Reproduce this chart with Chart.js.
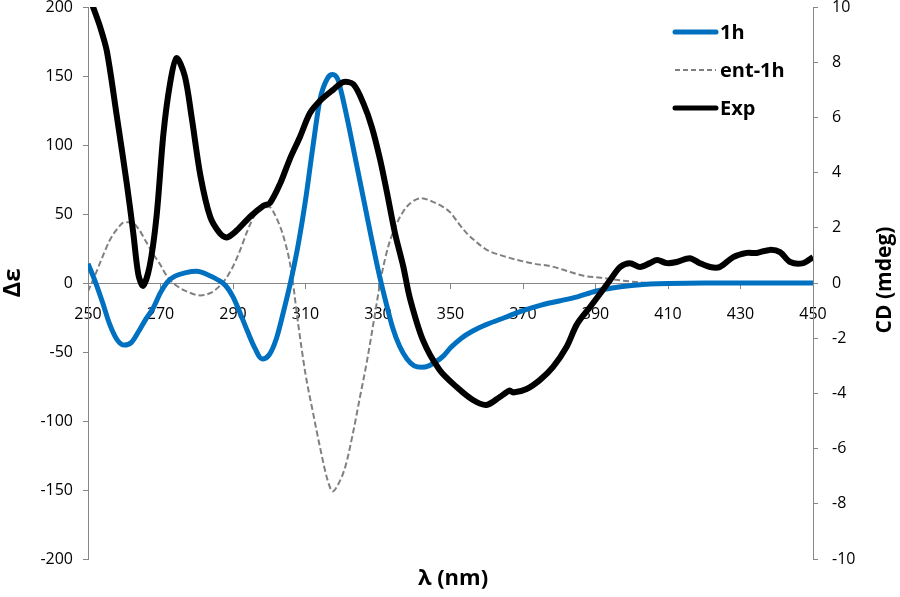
<!DOCTYPE html>
<html>
<head>
<meta charset="utf-8">
<script src="https://cdn.jsdelivr.net/npm/chart.js@4/dist/chart.umd.min.js"></script>
<style>
  html, body { margin: 0; padding: 0; background: #fff; }
  #wrap { position: relative; width: 900px; height: 597px; }
</style>
</head>
<body>
<div id="wrap"><canvas id="c" width="900" height="597"></canvas></div>
<script>
// ---- Data ----
const calcWavelength = [250,252,254,256,258,260,262,264,266,268,270,272,274,277,280,283,286,288,290,292,294,296,298,300,302,304,306,308,310,312,314,316,317.5,319,320,322,324,326,328,330,332,334,336,338,340,342,344,346,348,350,353,356,360,365,370,375,380,385,390,395,400,405,410,420,435,450];
const series1h     = [14,1,-14,-30,-41,-45,-43,-35,-26,-18,-7,1,5,7.5,8.5,6,2,-2,-10,-22,-35,-47,-55,-52,-40,-20,2,28,60,98,133,148,151,147,137,113,87,61,35,10,-12,-32,-46,-55,-60,-61,-60,-57,-53,-47,-40,-35,-30,-25,-20,-16,-13,-10,-6,-3.5,-1.8,-0.8,-0.3,0,0,0];

const entWavelength = [250,252,254,256,258,260,262,264,266,268,270,272,275,278,281,284,286,288,290,292,294,296,298,300,302,304,306,308,310,312,314,316,317.5,319,321,323,325,327,329,331,333,335,337,339,342,345,348,350,352,354.5,357,360,364,368,373,378,383,387,391,395,400,405,420,435,450];
const seriesEnt1h   = [-6,6,19,31,39,44,44,39,30,21,13,4,-3,-7,-9,-7,-3,3,12,24,38,49,54,55,47,33,10,-30,-66,-93,-119,-142,-151,-146,-133,-110,-83,-56,-25,6,28,42,52,58,61.5,59,55,51,44,36,30,24,20,17,14,12,8,5,4,2.5,1,0,0,0,0];

const expWavelength = [250,251.4,253.3,255.2,258,260.7,262.5,263.9,265.2,267,268.9,270.8,272.6,274.4,276.7,278.6,281,283.7,286.4,288.3,291,294.7,298.4,300.2,303,305.7,308.5,311.2,314,317.6,320.4,323.2,326,328.3,330.6,332.5,334.7,337,338.8,342.4,347,351.7,356.2,359.9,363.6,366.3,367.3,371,374.7,378.3,382,384.9,388.5,391.2,394,396.8,399.5,402.3,405,407,409.7,412.4,416,418.8,421.6,424.3,428,431.7,434.5,438.1,440.9,443.7,447.3,450];
const seriesExp     = [10.5,10.0,9.3,8.4,6.0,3.6,1.8,0.3,-0.1,0.6,2.4,5.4,7.2,8.15,7.5,6.0,3.9,2.4,1.8,1.65,1.9,2.4,2.8,2.9,3.6,4.5,5.3,6.15,6.6,7.0,7.28,7.2,6.5,5.65,4.46,3.26,1.8,0.58,-0.55,-2.07,-3.15,-3.77,-4.24,-4.42,-4.13,-3.9,-3.97,-3.84,-3.51,-3.04,-2.32,-1.49,-0.87,-0.4,0.1,0.58,0.72,0.58,0.72,0.83,0.72,0.76,0.9,0.72,0.58,0.58,0.94,1.09,1.09,1.2,1.12,0.76,0.72,0.94];

const seriesNames = ['1h', 'ent-1h', 'Exp'];
const xTitle = 'λ (nm)';
const yLeftTitle = 'Δε';
const yRightTitle = 'CD (mdeg)';

const toPoints = (xs, ys) => xs.map((x, i) => ({ x: x, y: ys[i] }));

const BLUE = '#0070C0', GRAY = '#808080', BLACK = '#000000', AXIS = '#868686';
const FONT = '"Open Sans", Lato, sans-serif';

const overlay = {
  id: 'overlay',
  afterDraw(chart) {
    const ctx = chart.ctx;
    ctx.save();
    ctx.fillStyle = '#000';
    ctx.textAlign = 'center';
    ctx.textBaseline = 'middle';
    // x title
    ctx.font = 'bold 22px ' + FONT;
    ctx.fillText(xTitle, 453, 579);
    // left title
    ctx.save();
    ctx.translate(13, 283);
    ctx.rotate(-Math.PI / 2);
    ctx.font = 'bold 24px ' + FONT;
    ctx.fillText(yLeftTitle, 0, 0);
    ctx.restore();
    // right title
    ctx.save();
    ctx.translate(885, 280);
    ctx.rotate(-Math.PI / 2);
    ctx.font = 'bold 21px ' + FONT;
    ctx.fillText(yRightTitle, 0, 0);
    ctx.restore();
    // legend
    const items = [
      { label: seriesNames[0], color: BLUE, width: 5, dash: [], y: 32 },
      { label: seriesNames[1], color: GRAY, width: 2, dash: [5, 3], y: 70 },
      { label: seriesNames[2], color: BLACK, width: 5, dash: [], y: 108 }
    ];
    ctx.textAlign = 'left';
    ctx.font = 'bold 20px ' + FONT;
    items.forEach(it => {
      ctx.beginPath();
      ctx.setLineDash(it.dash);
      ctx.lineWidth = it.width;
      ctx.lineCap = it.dash.length ? 'butt' : 'round';
      ctx.strokeStyle = it.color;
      ctx.moveTo(675, it.y);
      ctx.lineTo(716, it.y);
      ctx.stroke();
      ctx.setLineDash([]);
      ctx.fillText(it.label, 720, it.y + 1);
    });
    ctx.restore();
  }
};

new Chart(document.getElementById('c'), {
  type: 'line',
  data: {
    datasets: [
      {
        label: seriesNames[0],
        data: toPoints(calcWavelength, series1h),
        yAxisID: 'y',
        borderColor: BLUE,
        borderWidth: 5,
        pointRadius: 0,
        cubicInterpolationMode: 'monotone',
        order: 1
      },
      {
        label: seriesNames[1],
        data: toPoints(entWavelength, seriesEnt1h),
        yAxisID: 'y',
        borderColor: GRAY,
        borderWidth: 2,
        borderDash: [6, 3],
        pointRadius: 0,
        cubicInterpolationMode: 'monotone',
        order: 2
      },
      {
        label: seriesNames[2],
        data: toPoints(expWavelength, seriesExp),
        yAxisID: 'y2',
        borderColor: BLACK,
        borderWidth: 6,
        pointRadius: 0,
        tension: 0.3,
        borderJoinStyle: 'round',
        order: 0
      }
    ]
  },
  options: {
    responsive: false,
    animation: false,
    events: [],
    layout: { padding: { top: 7, bottom: 38, left: 0, right: 0 } },
    plugins: { legend: { display: false }, tooltip: { enabled: false } },
    scales: {
      x: {
        type: 'linear',
        min: 250, max: 450,
        position: { y: 0 },
        ticks: { stepSize: 20, color: '#000', font: { size: 16, family: FONT }, padding: 17, maxRotation: 0 },
        grid: { drawOnChartArea: false, drawTicks: true, tickLength: 5, color: AXIS },
        border: { display: true, color: AXIS, width: 1 },
        afterFit: s => { s.paddingLeft = 0; s.paddingRight = 0; }
      },
      y: {
        type: 'linear',
        position: 'left',
        min: -200, max: 200,
        ticks: { stepSize: 50, color: '#000', font: { size: 16, family: FONT }, padding: 10 },
        grid: { drawOnChartArea: false, drawTicks: true, tickLength: 5, color: AXIS },
        border: { display: true, color: AXIS, width: 1 },
        afterFit: s => { s.width = 88; s.paddingTop = 0; s.paddingBottom = 0; }
      },
      y2: {
        type: 'linear',
        position: 'right',
        min: -10, max: 10,
        ticks: { stepSize: 2, color: '#000', font: { size: 16, family: FONT }, padding: 14 },
        grid: { drawOnChartArea: false, drawTicks: true, tickLength: 5, color: AXIS },
        border: { display: true, color: AXIS, width: 1 },
        afterFit: s => { s.width = 87; s.paddingTop = 0; s.paddingBottom = 0; }
      }
    }
  },
  plugins: [overlay]
});
</script>
</body>
</html>
